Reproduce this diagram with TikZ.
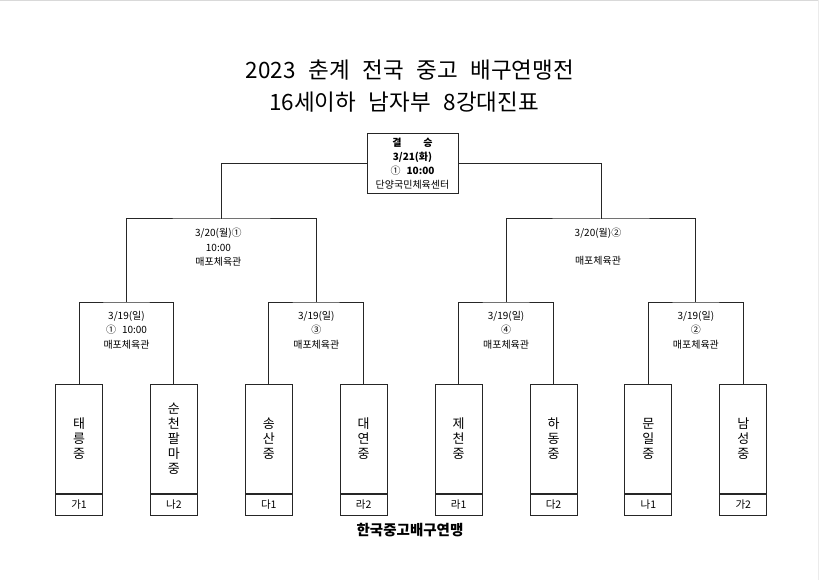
\documentclass[tikz,border=0pt]{standalone}
\usepackage{fontspec}
\setmainfont{Noto Sans CJK KR}
\newfontfamily\titlefont{Noto Sans CJK KR}[WordSpace=2.5]
\usetikzlibrary{positioning}
\tikzset{
  bracket/.style={draw=black!85, line width=1pt},
  info/.style={inner sep=0pt, align=center, font=\fontsize{10}{14.5}\selectfont},
  finalbox/.style={draw=black!85, line width=1pt, minimum width=91pt, minimum height=60pt,
    inner sep=0pt, align=center, font=\fontsize{10}{14}\selectfont},
  teambox/.style={draw=black!85, line width=1pt, minimum width=47pt, minimum height=109pt,
    inner sep=0pt, align=center, font=\fontsize{13}{15}\selectfont},
  seedbox/.style={draw=black!85, line width=1pt, minimum width=47pt, minimum height=21pt,
    inner sep=0pt, font=\fontsize{10.5}{11}\selectfont}
}

\begin{document}
\begin{tikzpicture}[x=1pt, y=-1pt]
        \useasboundingbox (0,0) rectangle (819,580);
        \draw [black!15, line width=1.5pt] (0,0.75) -- (819,0.75);
        \draw [black!8, line width=1pt] (818.5,0) -- (818.5,580);
        \node (title1) [font=\titlefont\fontsize{22.5}{26}\selectfont] at (410,70) {2023 춘계 전국 중고 배구연맹전};
        \node (title2) [font=\titlefont\fontsize{22.5}{26}\selectfont] at (404,102) {16세이하 남자부 8강대진표};
        \node (fin) [finalbox] at (412.5,164) {\textbf{결\hspace{2.2em}승}\\\textbf{3/21(화)}\\①\hspace{0.6em}\textbf{10:00}\\단양국민체육센터};
        \foreach \name/\seed [count=\i] in {{태\\릉\\중}/가1, {순\\천\\팔\\마\\중}/나2, {송\\산\\중}/다1, {대\\연\\중}/라2,
                {제\\천\\중}/라1, {하\\동\\중}/다2, {문\\일\\중}/나1, {남\\성\\중}/가2} {
                \node (t\i) [teambox] at ({79+94.9*(\i-1)},438.5) {\name};
                \node (g\i) [seedbox, below=0pt of t\i] {\seed};
        }
        \coordinate (q1) at (126.5,302);
        \coordinate (q2) at (316.3,302);
        \coordinate (q3) at (506.1,302);
        \coordinate (q4) at (695.9,302);
        \coordinate (s1) at (221.4,219);
        \coordinate (s2) at (601,219);
        \foreach \a/\b/\q in {1/2/q1, 3/4/q2, 5/6/q3, 7/8/q4}
                \draw [bracket] (t\a.north) |- (\q) -| (t\b.north);
        \draw [bracket] (q1) |- (s1) -| (q2);
        \draw [bracket] (q3) |- (s2) -| (q4);
        \draw [bracket] (s1) |- (fin.west);
        \draw [bracket] (s2) |- (fin.east);
        \node (i1) [info, below=9pt of q1] {3/19(일)\\①\hspace{0.6em}10:00\\매포체육관};
        \node (i2) [info, below=9pt of q2] {3/19(일)\\③\\매포체육관};
        \node (i3) [info, below=9pt of q3] {3/19(일)\\④\\매포체육관};
        \node (i4) [info, below=9pt of q4] {3/19(일)\\②\\매포체육관};
        \node (j1) [info, below=9pt of s1, xshift=-3pt] {3/20(월)①\\10:00\\매포체육관};
        \node (j2) [info, below=9pt of s2, xshift=-3pt] {3/20(월)②\\[13pt]매포체육관};
        \node (org) [font=\bfseries\fontsize{14.5}{16}\selectfont] at (410,530) {한국중고배구연맹};
\end{tikzpicture}
\end{document}
